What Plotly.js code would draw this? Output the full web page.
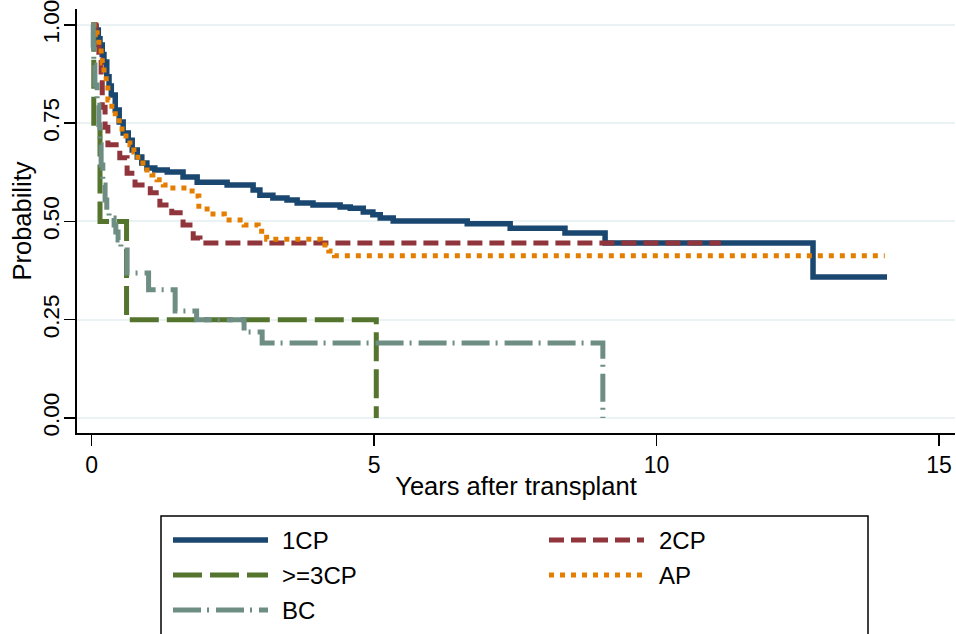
<!DOCTYPE html>
<html>
<head>
<meta charset="utf-8">
<script src="https://cdn.plot.ly/plotly-3.0.1.min.js"></script>
<style>
  html, body { margin: 0; padding: 0; background: #ffffff; }
  #chart { width: 956px; height: 634px; }
</style>
</head>
<body>
<div id="chart"></div>
<script>
// ---- Data (Kaplan-Meier step points) ----
const seriesNames = ['1CP', '2CP', '>=3CP', 'AP', 'BC'];

const years1CP = [0, 0.05, 0.08, 0.12, 0.15, 0.19, 0.22, 0.27, 0.31, 0.35, 0.42, 0.49, 0.56, 0.65, 0.72, 0.81, 0.89, 0.98, 1.12, 1.34, 1.62, 1.87, 2.40, 2.86, 2.98, 3.21, 3.46, 3.64, 3.92, 4.40, 4.58, 4.81, 4.98, 5.11, 5.34, 6.65, 7.41, 8.38, 9.09, 12.77, 14.08];
const surv1CP  = [1.0, 0.995, 0.987, 0.965, 0.949, 0.925, 0.906, 0.868, 0.845, 0.822, 0.784, 0.753, 0.725, 0.707, 0.682, 0.664, 0.649, 0.636, 0.631, 0.626, 0.613, 0.600, 0.593, 0.580, 0.567, 0.560, 0.555, 0.547, 0.542, 0.537, 0.534, 0.524, 0.517, 0.509, 0.501, 0.494, 0.483, 0.471, 0.445, 0.359, 0.359];

const years2CP = [0, 0.08, 0.13, 0.17, 0.19, 0.24, 0.29, 0.50, 0.63, 0.77, 1.04, 1.21, 1.42, 1.62, 1.80, 1.92, 11.14];
const surv2CP  = [1.0, 0.950, 0.911, 0.860, 0.791, 0.740, 0.695, 0.662, 0.623, 0.593, 0.573, 0.542, 0.522, 0.491, 0.458, 0.445, 0.445];

const years3CP = [0, 0.04, 0.15, 0.62, 5.04];
const surv3CP  = [1.0, 0.75, 0.50, 0.25, 0.0];

const yearsAP = [0, 0.10, 0.13, 0.17, 0.19, 0.22, 0.26, 0.29, 0.36, 0.42, 0.49, 0.54, 0.61, 0.68, 0.75, 0.82, 0.91, 0.98, 1.07, 1.16, 1.27, 1.35, 1.78, 1.90, 2.10, 2.35, 2.70, 2.95, 3.10, 4.05, 4.20, 4.30, 14.04];
const survAP  = [1.0, 0.975, 0.949, 0.924, 0.903, 0.873, 0.847, 0.809, 0.784, 0.766, 0.746, 0.728, 0.707, 0.695, 0.677, 0.656, 0.641, 0.631, 0.618, 0.606, 0.593, 0.585, 0.565, 0.532, 0.519, 0.504, 0.491, 0.475, 0.455, 0.440, 0.425, 0.413, 0.413];

const yearsBC = [0, 0.03, 0.04, 0.06, 0.10, 0.13, 0.15, 0.17, 0.20, 0.24, 0.27, 0.31, 0.40, 0.43, 0.47, 0.52, 0.63, 1.01, 1.48, 1.86, 2.70, 3.02, 9.05];
const survBC  = [1.0, 0.949, 0.898, 0.847, 0.796, 0.746, 0.695, 0.644, 0.593, 0.555, 0.524, 0.509, 0.491, 0.473, 0.453, 0.435, 0.369, 0.326, 0.272, 0.250, 0.219, 0.191, 0.0];

const xTickVals = [0, 5, 10, 15];
const xTickText = ['0', '5', '10', '15'];
const yTickVals = [0, 0.25, 0.5, 0.75, 1];
const yTickText = ['0.00', '0.25', '0.50', '0.75', '1.00'];

// ---- Styles ----
const colors = ['#1a476f', '#90353b', '#55752f', '#e37e00', '#6e8e84'];
const dashes = ['solid', '15px,7px', '29px,8px', '5px,6px', '28px,6px,2px,7px'];
const widths = [5.5, 5, 5, 5, 5];
const xs = [years1CP, years2CP, years3CP, yearsAP, yearsBC];
const ys = [surv1CP, surv2CP, surv3CP, survAP, survBC];

const FONT = 'Liberation Sans, Arial, Helvetica, sans-serif';
const TICK_SIZE = 23, YTICK_SIZE = 22.5, TITLE_SIZE = 25.5, LEG_SIZE = 24;

const traces = seriesNames.map((name, i) => ({
  type: 'scatter',
  mode: 'lines',
  name: name,
  x: xs[i],
  y: ys[i],
  line: { shape: 'hv', color: colors[i], width: widths[i], dash: dashes[i] },
  hoverinfo: 'skip',
  showlegend: false
}));

// Plot area in pixels
const L = 77, R = 955, T = 9, B = 433;
const px2x = p => (p - L) / (R - L);
const px2y = p => (B - p) / (B - T);

// Custom legend (matching the reference layout)
const legendPos = [
  { sx: 173, tx: 280, py: 540 },
  { sx: 549, tx: 657, py: 540 },
  { sx: 173, tx: 280, py: 575 },
  { sx: 549, tx: 657, py: 575 },
  { sx: 173, tx: 280, py: 610 }
];
const shapes = [{
  type: 'rect', xref: 'paper', yref: 'paper',
  x0: px2x(161), x1: px2x(868), y0: px2y(516), y1: px2y(645),
  line: { color: '#000000', width: 1.5 }, fillcolor: 'rgba(0,0,0,0)'
}];
const annotations = [];
seriesNames.forEach((name, i) => {
  const p = legendPos[i];
  shapes.push({
    type: 'line', xref: 'paper', yref: 'paper',
    x0: px2x(p.sx), x1: px2x(p.sx + 95), y0: px2y(p.py), y1: px2y(p.py),
    line: { color: colors[i], width: widths[i], dash: dashes[i] }
  });
  annotations.push({
    xref: 'paper', yref: 'paper', x: px2x(p.tx), y: px2y(p.py),
    xanchor: 'left', yanchor: 'middle', showarrow: false,
    text: name, font: { family: FONT, size: LEG_SIZE, color: '#000000' }
  });
});

const layout = {
  width: 956, height: 634,
  paper_bgcolor: '#ffffff', plot_bgcolor: '#ffffff',
  margin: { l: L, r: 956 - R, t: T, b: 634 - B, pad: 0 },
  font: { family: FONT, size: TICK_SIZE, color: '#000000' },
  showlegend: false,
  hovermode: false,
  xaxis: {
    range: [-0.257, 15.283],
    tickvals: xTickVals, ticktext: xTickText,
    ticks: 'outside', ticklen: 11, tickwidth: 1.5, tickcolor: '#000000',
    showgrid: false, zeroline: false,
    showline: true, linecolor: '#000000', linewidth: 1.6,
    ticklabeloverflow: 'allow',
    tickfont: { family: FONT, size: TICK_SIZE, color: '#000000' },
    title: { text: 'Years after transplant', font: { family: FONT, size: TITLE_SIZE, color: '#000000' }, standoff: 0 }
  },
  yaxis: {
    range: [-0.0382, 1.0407],
    tickvals: yTickVals, ticktext: yTickText,
    tickangle: -90,
    ticks: 'outside', ticklen: 11, tickwidth: 1.5, tickcolor: '#000000',
    ticklabelstandoff: -4,
    ticklabeloverflow: 'allow',
    showgrid: true, gridcolor: '#eaf2f3', gridwidth: 2,
    zeroline: false,
    showline: true, linecolor: '#000000', linewidth: 1.6,
    tickfont: { family: FONT, size: YTICK_SIZE, color: '#000000' },
    title: { text: 'Probability', font: { family: FONT, size: TITLE_SIZE, color: '#000000' }, standoff: 0 }
  },
  shapes: shapes,
  annotations: annotations
};

Plotly.newPlot('chart', traces, layout, { staticPlot: true, displayModeBar: false });
</script>
</body>
</html>
